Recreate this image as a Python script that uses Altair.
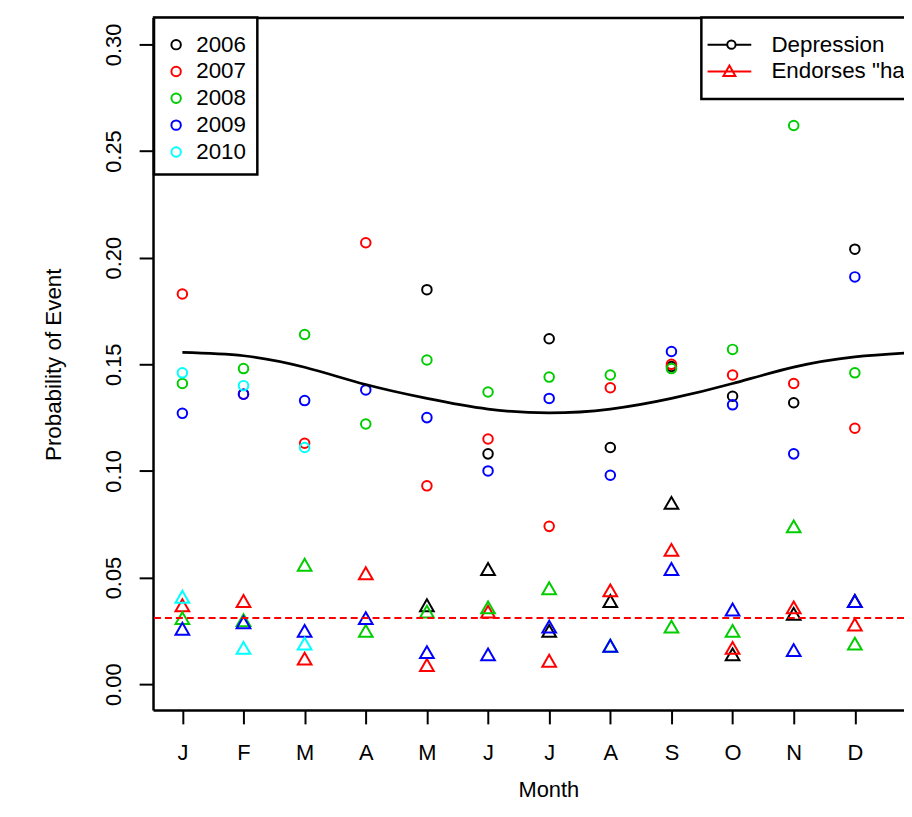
import altair as alt
import pandas as pd

FONT = "Liberation Sans"

# ---- data ----
months = list(range(1, 13))
month_labels = ["J", "F", "M", "A", "M", "J", "J", "A", "S", "O", "N", "D"]
years = ["2006", "2007", "2008", "2009", "2010"]
year_colors = ["#000000", "#FF0000", "#00CD00", "#0000FF", "#00FFFF"]
series_names = ["Depression", 'Endorses "harm"']
series_colors = ["#000000", "#FF0000"]

# Depression (circles), one list per year, None = no observation
dep_2006 = [None, None, None, None, 0.185, 0.108, 0.162, 0.111, 0.149, 0.135, 0.132, 0.204]
dep_2007 = [0.183, 0.136, 0.113, 0.207, 0.093, 0.115, 0.074, 0.139, 0.150, 0.145, 0.141, 0.120]
dep_2008 = [0.141, 0.148, 0.164, 0.122, 0.152, 0.137, 0.144, 0.145, 0.148, 0.157, 0.262, 0.146]
dep_2009 = [0.127, 0.136, 0.133, 0.138, 0.125, 0.100, 0.134, 0.098, 0.156, 0.131, 0.108, 0.191]
dep_2010 = [0.146, 0.140, 0.111, None, None, None, None, None, None, None, None, None]

# Endorses "harm" (triangles)
harm_2006 = [None, None, None, None, 0.037, 0.054, 0.025, 0.039, 0.085, 0.014, 0.033, 0.039]
harm_2007 = [0.037, 0.039, 0.012, 0.052, 0.009, 0.034, 0.011, 0.044, 0.063, 0.017, 0.036, 0.028]
harm_2008 = [0.031, 0.030, 0.056, 0.025, 0.034, 0.036, 0.045, 0.018, 0.027, 0.025, 0.074, 0.019]
harm_2009 = [0.026, 0.029, 0.025, 0.031, 0.015, 0.014, 0.027, 0.018, 0.054, 0.035, 0.016, 0.039]
harm_2010 = [0.041, 0.017, 0.019, None, None, None, None, None, None, None, None, None]

# fitted seasonal depression curve (read at each month, 1..13)
curve_month = list(range(1, 14))
curve_prob = [0.1556, 0.1540, 0.1486, 0.1405, 0.1340, 0.1290, 0.1272,
              0.1290, 0.1340, 0.1410, 0.1487, 0.1535, 0.1556]

harm_mean = 0.031
y_ticks = [0.00, 0.05, 0.10, 0.15, 0.20, 0.25, 0.30]

# ---- tables ----
dep_by_year = [dep_2006, dep_2007, dep_2008, dep_2009, dep_2010]
harm_by_year = [harm_2006, harm_2007, harm_2008, harm_2009, harm_2010]
rows = []
for yr, dep, harm in zip(years, dep_by_year, harm_by_year):
    for m, v in zip(months, dep):
        if v is not None:
            rows.append({"month": m, "value": v, "year": yr, "series": series_names[0]})
    for m, v in zip(months, harm):
        if v is not None:
            rows.append({"month": m, "value": v, "year": yr, "series": series_names[1]})
pts_df = pd.DataFrame(rows)
curve_df = pd.DataFrame({"month": curve_month, "prob": curve_prob})
rule_df = pd.DataFrame({"harm_mean": [harm_mean]})
leg_df = pd.DataFrame({"series": series_names})

# ---- scales / axes ----
x_scale = alt.Scale(domain=[0.52, 12.804], nice=False, zero=False)
y_scale = alt.Scale(domain=[-0.0121, 0.3126], nice=False, zero=False)

label_expr = "[" + ",".join("'%s'" % m for m in month_labels) + "][datum.value - 1]"

x_axis_bottom = alt.Axis(
    orient="bottom", values=months, labelExpr=label_expr,
    title="Month", titleX=398, titleY=87, titleAlign="center", titleBaseline="alphabetic",
    titleFont=FONT, titleFontSize=22, titleFontWeight="normal", titleColor="black",
    labelFont=FONT, labelFontSize=22, labelColor="black", labelBaseline="alphabetic",
    labelAlign="center", labelPadding=36, labelOverlap=False, labelFlush=False,
    tickSize=14, tickWidth=2, tickColor="black",
    domainColor="black", domainWidth=2.5, grid=False,
)
x_axis_top = alt.Axis(
    orient="top", labels=False, ticks=False, title=None,
    domainColor="black", domainWidth=2.5, grid=False,
)
y_axis = alt.Axis(
    orient="left", values=y_ticks, format=".2f",
    title="Probability of Event", titleX=-93, titleY=349, titleAngle=270,
    titleAlign="center", titleBaseline="alphabetic",
    titleFont=FONT, titleFontSize=22.5, titleFontWeight="normal", titleColor="black",
    labelAngle=270, labelAlign="center", labelBaseline="alphabetic", labelPadding=19,
    labelFont=FONT, labelFontSize=22, labelColor="black", labelOverlap=False, labelFlush=False,
    tickSize=14, tickWidth=2, tickColor="black",
    domainColor="black", domainWidth=2.5, grid=False,
)

year_legend = alt.Legend(
    title=" ", titleFontSize=1, titlePadding=4,
    orient="none", legendX=1, legendY=0,
    symbolType="circle", symbolSize=90, symbolStrokeWidth=2, symbolOpacity=1,
    labelFont=FONT, labelFontSize=22.5, labelColor="black",
    padding=11, rowPadding=4, labelOffset=9,
    strokeColor="black", fillColor="white", cornerRadius=0,
)

path_dep = "M-2.1,0H-0.12M0.72,0H2.3M0.72,0A0.42,0.42,0,1,1,-0.12,0A0.42,0.42,0,1,1,0.72,0"
path_harm = "M-2.1,0H2.3M-0.5,0.45L0.7,0.45L0.1,-0.6Z"

series_legend = alt.Legend(
    title=None, orient="none", legendX=552, legendY=0,
    symbolSize=400, symbolStrokeWidth=2, symbolOpacity=1,
    labelFont=FONT, labelFontSize=22.5, labelColor="black",
    padding=16, rowPadding=4, labelOffset=32,
    strokeColor="black", fillColor="white", cornerRadius=0,
)

# ---- layers ----
points = alt.Chart(pts_df).mark_point(filled=False, strokeWidth=2, opacity=1).encode(
    x=alt.X("month:Q", scale=x_scale, axis=x_axis_bottom),
    y=alt.Y("value:Q", scale=y_scale, axis=y_axis),
    stroke=alt.Stroke("year:N", scale=alt.Scale(domain=years, range=year_colors), legend=year_legend),
    shape=alt.Shape("series:N", scale=alt.Scale(domain=series_names, range=["circle", "triangle-up"]), legend=None),
    size=alt.Size("series:N", scale=alt.Scale(domain=series_names, range=[92, 190]), legend=None),
)

curve = alt.Chart(curve_df).mark_line(color="black", strokeWidth=2.7, interpolate="natural", clip=True).encode(
    x=alt.X("month:Q", scale=x_scale, axis=x_axis_top),
    y=alt.Y("prob:Q", scale=y_scale, axis=y_axis),
)

rule = alt.Chart(rule_df).mark_rule(color="#FF0000", strokeDash=[7, 4], strokeWidth=2).encode(
    y=alt.Y("harm_mean:Q", scale=y_scale, axis=y_axis),
)

legend_layer = alt.Chart(leg_df).mark_point(filled=False, strokeWidth=2, clip=True, opacity=1).encode(
    x=alt.value(-200),
    y=alt.value(-200),
    color=alt.Color("series:N", scale=alt.Scale(domain=series_names, range=series_colors), legend=series_legend),
    shape=alt.Shape("series:N", scale=alt.Scale(domain=series_names, range=[path_dep, path_harm]), legend=series_legend),
)

chart = (
    alt.layer(points, curve, rule, legend_layer)
    .resolve_scale(shape="independent", color="independent")
    .properties(
        width=756, height=697,
        padding={"left": 146, "top": 7, "right": 0, "bottom": 92},
        autosize=alt.AutoSizeParams(type="none"),
        background="white",
    )
    .configure_view(stroke=None)
    .configure_legend(strokeWidth=2.5)
)

chart.save("out.html", embed_options={"renderer": "svg", "actions": False})
